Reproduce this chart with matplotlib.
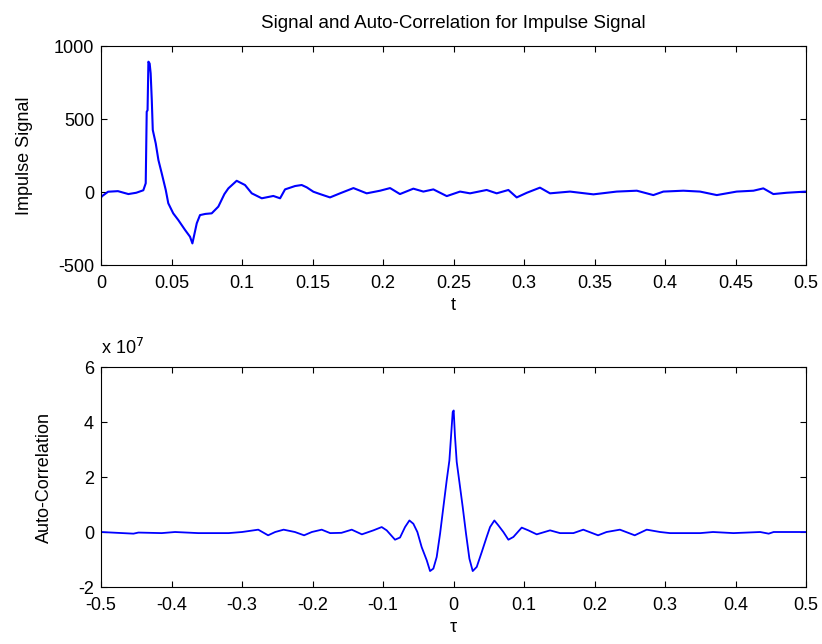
import matplotlib
matplotlib.use("Agg")
import matplotlib.pyplot as plt

plt.rcParams['font.family'] = ['Liberation Sans', 'DejaVu Sans']
plt.rcParams['axes.unicode_minus'] = False

# impulse signal
t = [0.0, 0.0005, 0.005, 0.012, 0.0194, 0.025, 0.030, 0.0317, 0.0324, 0.0330, 0.0336,
     0.0345, 0.0352, 0.036, 0.0367, 0.0388, 0.0407, 0.043, 0.0459, 0.0477, 0.0512,
     0.0548, 0.0596, 0.0631, 0.0648, 0.0679, 0.0702, 0.0740, 0.0785, 0.0832, 0.0875,
     0.0903, 0.0962, 0.1021, 0.1069, 0.114, 0.1222, 0.127, 0.1305, 0.1376, 0.1423,
     0.1459, 0.1506, 0.1553, 0.1624, 0.1695, 0.179,
     0.1884, 0.1979, 0.205, 0.212, 0.2215, 0.2286, 0.2357, 0.2452, 0.2546, 0.2617,
     0.2735, 0.2806, 0.2889, 0.2948, 0.302, 0.3113, 0.3184, 0.3326, 0.3492, 0.3657,
     0.38, 0.3917, 0.3988, 0.413, 0.4248, 0.4367, 0.4508, 0.4627, 0.4697, 0.4768,
     0.4863, 0.5]
sig = [-40, -30, 2, 6, -14, -5, 12, 60, 550, 560, 893,
       880, 813, 630, 425, 333, 219, 130, 14, -77, -146,
       -192, -260, -306, -352, -214, -158, -150, -146, -100, -14,
       25, 77, 48, -9, -43, -27, -43, 18, 41, 48,
       32, 2, -14, -37, -9, 27,
       -9, 9, 27, -14, 23, 3, 18, -28, 3, -9,
       14, -9, 14, -37, -5, 30, -9, 3, -16, 3,
       9, -21, 3, 9, 3, -21, 3, 9, 25, -14,
       -5, 3]

# auto-correlation (units of 1e7)
tau = [-0.5, -0.454, -0.447, -0.414, -0.395, -0.362, -0.319, -0.300, -0.277, -0.263,
       -0.253, -0.241, -0.225, -0.212, -0.201, -0.187, -0.175, -0.159, -0.1444, -0.130,
       -0.1137, -0.1019, -0.0948, -0.083, -0.0759, -0.0688, -0.0626, -0.057, -0.0513,
       -0.0452, -0.038, -0.0333, -0.0286, -0.0239, -0.0191, -0.0144, -0.0097, -0.0059,
       -0.0035, -0.0012, 0.0002, 0.002, 0.0045, 0.0083, 0.013, 0.0177, 0.0225, 0.0272,
       0.0329, 0.04, 0.047, 0.0518, 0.0579, 0.0636, 0.0707, 0.0778, 0.0849, 0.0967,
       0.1061, 0.118, 0.1369, 0.151, 0.170, 0.184, 0.205, 0.217, 0.236, 0.257, 0.274,
       0.293, 0.307, 0.350, 0.368, 0.397, 0.435, 0.447, 0.454, 0.5]
acorr = [0.0, -0.06, -0.02, -0.04, 0.0, -0.04, -0.04, 0.0, 0.085, -0.12,
         0.0, 0.085, 0.0, -0.12, 0.0, 0.085, -0.04, -0.03, 0.085, -0.085,
         0.06, 0.18, 0.06, -0.28, -0.2, 0.18, 0.42, 0.3, 0.0,
         -0.55, -1.03, -1.42, -1.33, -0.91, -0.06, 0.91, 1.88, 2.6,
         3.5, 4.36, 4.42, 3.5, 2.55, 1.82, 0.91, -0.06, -0.97, -1.42,
         -1.27, -0.73, -0.18, 0.18, 0.42, 0.24, 0.0, -0.28, -0.18, 0.16,
         0.06, -0.085, 0.06, -0.04, -0.04, 0.085, -0.12, 0.0, 0.085, -0.12, 0.085,
         0.0, -0.04, -0.04, 0.0, -0.04, 0.0, -0.06, 0.0, 0.0]

t_ticks = [0, 0.05, 0.1, 0.15, 0.2, 0.25, 0.3, 0.35, 0.4, 0.45, 0.5]
t_labels = ['0', '0.05', '0.1', '0.15', '0.2', '0.25', '0.3', '0.35', '0.4', '0.45', '0.5']
tau_ticks = [-0.5, -0.4, -0.3, -0.2, -0.1, 0, 0.1, 0.2, 0.3, 0.4, 0.5]
tau_labels = ['-0.5', '-0.4', '-0.3', '-0.2', '-0.1', '0', '0.1', '0.2', '0.3', '0.4', '0.5']

fs = 13
fig = plt.figure(figsize=(8.22, 6.44), dpi=100)
ax1 = fig.add_axes([0.1229, 0.5885, 0.8577, 0.340])
ax2 = fig.add_axes([0.1229, 0.0885, 0.8577, 0.3416])

for ax in (ax1, ax2):
    ax.tick_params(direction='in', top=True, right=True, length=4, width=0.8,
                   labelsize=fs)
    ax.tick_params(axis='x', pad=7)
    ax.tick_params(axis='y', pad=5)
    for s in ax.spines.values():
        s.set_linewidth(0.8)

ax1.plot(t, sig, color='#0000ff', lw=1.5)
ax1.set_xlim(0, 0.5)
ax1.set_ylim(-500, 1000)
ax1.set_xticks(t_ticks)
ax1.set_xticklabels(t_labels)
ax1.set_yticks([-500, 0, 500, 1000])
ax1.set_xlabel('t', fontsize=fs, labelpad=4)
ax1.set_ylabel('Impulse Signal', fontsize=fs, labelpad=15)
ax1.set_title('Signal and Auto-Correlation for Impulse Signal', fontsize=13.5, pad=13)

ax2.plot(tau, acorr, color='#0000ff', lw=1.3)
ax2.set_xlim(-0.5, 0.5)
ax2.set_ylim(-2, 6)
ax2.set_xticks(tau_ticks)
ax2.set_xticklabels(tau_labels)
ax2.set_yticks([-2, 0, 2, 4, 6])
ax2.set_xlabel('τ', fontsize=fs, labelpad=4)
ax2.set_ylabel('Auto-Correlation', fontsize=fs, labelpad=18)
ax2.text(0.0, 1.04, 'x 10$^{7}$', transform=ax2.transAxes, fontsize=fs,
         ha='left', va='bottom')

fig.savefig('out.png', dpi=100)
